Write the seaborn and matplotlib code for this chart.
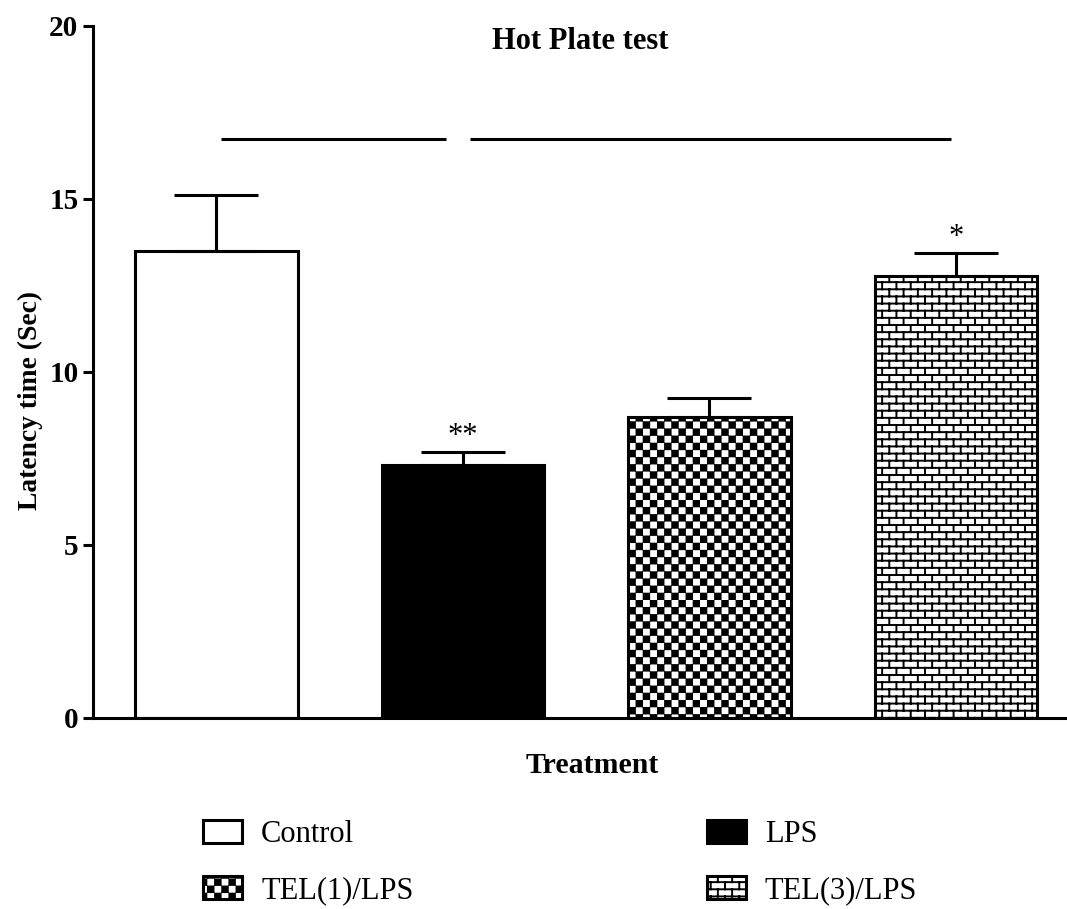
import warnings
warnings.filterwarnings("ignore")
import numpy as np
import pandas as pd
import matplotlib
matplotlib.use("Agg")
import matplotlib.pyplot as plt
import seaborn as sns
from matplotlib import hatch as mhatch
from matplotlib.path import Path

groups = ["Control", "LPS", "TEL(1)/LPS", "TEL(3)/LPS"]
means = [13.50, 7.29, 8.68, 12.76]
sems = [1.60, 0.39, 0.56, 0.68]
stars = ["", "**", "", "*"]
sig_lines = [(0.02, 0.93, 16.74), (1.03, 2.98, 16.74)]
yticks = [0, 5, 10, 15, 20]


# ---- custom hatch patterns: checkerboard ('C') and brick ('B') ----
class CheckerHatch(mhatch.HatchPatternBase):
    def __init__(self, hatch, density):
        self.n = 14
        self.on = "C" in hatch
        self.num_squares = (self.n * self.n) // 2 if self.on else 0
        self.num_vertices = self.num_squares * 5

    def set_vertices_and_codes(self, vertices, codes):
        s = 1.0 / self.n
        m = 0.008
        k = 0
        for i in range(self.n):
            for j in range(self.n):
                if (i + j) % 2 == 0:
                    x0, y0 = i * s + m, j * s + m
                    x1, y1 = (i + 1) * s - m, (j + 1) * s - m
                    vertices[k * 5:(k + 1) * 5] = [(x0, y0), (x1, y0), (x1, y1), (x0, y1), (x0, y0)]
                    codes[k * 5] = Path.MOVETO
                    codes[k * 5 + 1:k * 5 + 4] = Path.LINETO
                    codes[k * 5 + 4] = Path.CLOSEPOLY
                    k += 1


class BrickHatch(mhatch.HatchPatternBase):
    def __init__(self, hatch, density):
        self.rows = 14
        self.cols = 7
        self.on = "B" in hatch
        if self.on:
            self.segs = self._segments()
            self.num_vertices = len(self.segs) * 2
        else:
            self.num_vertices = 0

    def _segments(self):
        segs = []
        R, C = self.rows, self.cols
        for r in range(R):
            y = (r + 0.5) / R
            segs.append(((0.0, y), (1.0, y)))
        for r in range(R):
            y0 = (r + 0.5) / R
            y1 = (r + 1.5) / R
            off = 0.25 if r % 2 == 0 else 0.75
            for c in range(C):
                x = (c + off) / C
                if y1 <= 1.0:
                    segs.append(((x, y0), (x, y1)))
                else:
                    segs.append(((x, y0), (x, 1.0)))
                    segs.append(((x, 0.0), (x, y1 - 1.0)))
        return segs

    def set_vertices_and_codes(self, vertices, codes):
        for k, (a, b) in enumerate(self.segs):
            vertices[2 * k] = a
            vertices[2 * k + 1] = b
            codes[2 * k] = Path.MOVETO
            codes[2 * k + 1] = Path.LINETO


mhatch._hatch_types.append(CheckerHatch)
mhatch._hatch_types.append(BrickHatch)

sns.set_theme(style="ticks")
plt.rcParams["font.family"] = ["Liberation Serif", "DejaVu Serif"]
plt.rcParams["hatch.linewidth"] = 1.4
plt.rcParams["hatch.color"] = "black"
for key in ["text.color", "axes.labelcolor", "xtick.color", "ytick.color", "axes.edgecolor"]:
    plt.rcParams[key] = "black"

fig = plt.figure(figsize=(10.67, 9.09), dpi=100)
ax = fig.add_axes([93 / 1067, 1 - 717.5 / 909, 974 / 1067, 691.5 / 909])

df = pd.DataFrame({"group": groups, "mean": means})
sns.barplot(data=df, x="group", y="mean", hue="group", order=groups, hue_order=groups,
            palette=["white", "black", "white", "white"], width=0.66,
            edgecolor="black", linewidth=2.2, errorbar=None, legend=False, ax=ax,
            saturation=1)

hatches = ["", "", "C", "B"]
for p, h in zip(ax.patches, hatches):
    p.set_hatch(h)
    p.set_edgecolor("black")

xpos = np.arange(len(groups))
ax.errorbar(xpos, means, yerr=[np.zeros(len(sems)), sems], fmt="none",
            ecolor="black", elinewidth=2.2, capsize=30, capthick=2.2, zorder=1)

for x, m, s, st in zip(xpos, means, sems, stars):
    if st:
        ax.text(x, m + s + 0.45, st, ha="center", va="center", fontsize=22, color="black")

for x0, x1, y in sig_lines:
    ax.plot([x0, x1], [y, y], color="black", lw=2.2, solid_capstyle="butt")

ax.set_xlim(-0.5, 3.45)
ax.set_ylim(0, 20)
ax.set_yticks(yticks)
ax.set_yticklabels([str(t) for t in yticks], fontsize=21, fontweight="bold")
ax.set_xticks([])
ax.tick_params(axis="y", length=7.5, width=2.2, pad=3, colors="black")
for side in ["top", "right"]:
    ax.spines[side].set_visible(False)
for side in ["left", "bottom"]:
    ax.spines[side].set_linewidth(2.2)
    ax.spines[side].set_color("black")

ax.set_xlabel("Treatment", fontsize=21.5, fontweight="bold", va="center")
ax.xaxis.set_label_coords(0.513, -0.07)
ax.set_ylabel("Latency time (Sec)", fontsize=19.8, fontweight="bold", va="center")
ax.yaxis.set_label_coords(-0.0647, 0.459)
ax.text(0.5, 0.978, "Hot Plate test", transform=ax.transAxes, ha="center", va="center",
        fontsize=22, fontweight="bold")

# row-major legend order: Control, LPS / TEL(1)/LPS, TEL(3)/LPS
patches = list(ax.patches)
order = [0, 2, 1, 3]
leg = fig.legend(handles=[patches[i] for i in order], labels=[groups[i] for i in order],
                 ncol=2, loc="upper left",
                 bbox_to_anchor=(203 / 1067, 1 - 820 / 909), frameon=False,
                 fontsize=22, handlelength=1.27, handleheight=0.78,
                 handletextpad=0.63, columnspacing=9.6, labelspacing=0.88,
                 borderpad=0, borderaxespad=0)

fig.savefig("out.png", dpi=100, facecolor="white")
